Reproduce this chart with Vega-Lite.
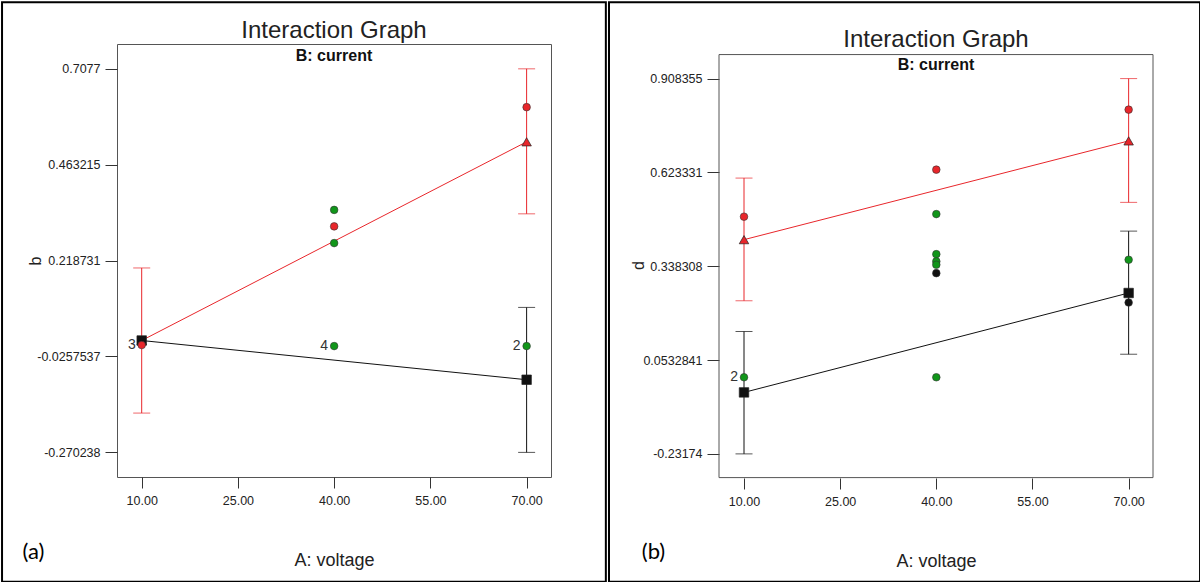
{
  "$schema": "https://vega.github.io/schema/vega-lite/v6.json",
  "padding": 0,
  "spacing": -1,
  "background": "white",
  "config": {
    "view": {"stroke": "#555", "strokeWidth": 1},
    "axis": {
      "grid": false, "domain": false, "tickColor": "#333", "labelFont": "Liberation Sans",
      "labelFontSize": 12.5, "labelColor": "#222", "titleFont": "Liberation Sans",
      "titleFontWeight": "normal", "titleColor": "#222"
    },
    "title": {
      "font": "Liberation Sans", "fontSize": 24, "fontWeight": "normal", "color": "#222",
      "subtitleFont": "Liberation Sans", "subtitleFontSize": 16, "subtitleFontWeight": "bold",
      "subtitleColor": "#111", "anchor": "middle", "frame": "group", "subtitlePadding": 5
    }
  },
  "datasets": {
    "aBars": [
      {"v": 10, "s": "B+", "lo": -0.170, "hi": 0.200},
      {"v": 70, "s": "B+", "lo": 0.338, "hi": 0.7077},
      {"v": 70, "s": "B-", "lo": -0.270238, "hi": 0.0994}
    ],
    "aMeans": [
      {"v": 10, "s": "B+", "m": 0.015},
      {"v": 70, "s": "B+", "m": 0.5216},
      {"v": 10, "s": "B-", "m": 0.015},
      {"v": 70, "s": "B-", "m": -0.085}
    ],
    "aPts": [
      {"v": 40, "s": "B+", "val": 0.306, "label": ""},
      {"v": 70, "s": "B+", "val": 0.610, "label": ""},
      {"v": 10, "s": "B+", "val": 0.0034, "label": "3"},
      {"v": 40, "s": "C", "val": 0.348, "label": ""},
      {"v": 40, "s": "C", "val": 0.2634, "label": ""},
      {"v": 40, "s": "C", "val": 0.0008, "label": "4"},
      {"v": 70, "s": "C", "val": 0.0008, "label": "2"}
    ],
    "bBars": [
      {"v": 10, "s": "B+", "lo": 0.2334, "hi": 0.6061},
      {"v": 70, "s": "B+", "lo": 0.5323, "hi": 0.908355},
      {"v": 10, "s": "B-", "lo": -0.23174, "hi": 0.140},
      {"v": 70, "s": "B-", "lo": 0.071, "hi": 0.445}
    ],
    "bMeans": [
      {"v": 10, "s": "B+", "m": 0.419},
      {"v": 70, "s": "B+", "m": 0.719},
      {"v": 10, "s": "B-", "m": -0.045},
      {"v": 70, "s": "B-", "m": 0.257}
    ],
    "bPts": [
      {"v": 40, "s": "B-", "val": 0.3173, "label": ""},
      {"v": 70, "s": "B-", "val": 0.228, "label": ""},
      {"v": 10, "s": "B+", "val": 0.4888, "label": ""},
      {"v": 40, "s": "B+", "val": 0.6317, "label": ""},
      {"v": 70, "s": "B+", "val": 0.814, "label": ""},
      {"v": 40, "s": "C", "val": 0.4967, "label": ""},
      {"v": 40, "s": "C", "val": 0.375, "label": ""},
      {"v": 40, "s": "C", "val": 0.353, "label": ""},
      {"v": 40, "s": "C", "val": 0.3428, "label": ""},
      {"v": 70, "s": "C", "val": 0.358, "label": ""},
      {"v": 10, "s": "C", "val": 0.001, "label": "2"},
      {"v": 40, "s": "C", "val": 0.001, "label": ""}
    ]
  },
  "hconcat": [
    {
      "width": 434,
      "height": 433,
      "title": {"text": "Interaction Graph", "subtitle": "B: current", "offset": -63},
      "layer": [
        {
          "data": {"values": [{"tag": "(a)"}]},
          "mark": {"type": "rect", "fillOpacity": 0, "stroke": "#000", "strokeWidth": 2},
          "encoding": {
            "x": {"datum": -11.77, "type": "quantitative", "scale": {"domain": [6.15, 73.8], "nice": false, "zero": false}},
            "x2": {"datum": 82.35},
            "y": {"datum": 0.8773, "type": "quantitative", "scale": {"domain": [-0.333, 0.771], "nice": false, "zero": false}},
            "y2": {"datum": -0.6002}
          }
        },
        {
          "data": {"values": [{"tag": "(a)"}]},
          "mark": {"type": "text", "font": "Lato", "fontSize": 22, "baseline": "alphabetic", "align": "center", "color": "#000"},
          "encoding": {
            "x": {"datum": -6.86, "type": "quantitative"},
            "y": {"datum": -0.542, "type": "quantitative"},
            "text": {"field": "tag"}
          }
        },
        {
          "data": {"name": "aBars"},
          "mark": {"type": "rule", "strokeWidth": 1},
          "encoding": {
            "x": {"field": "v", "type": "quantitative",
              "axis": {"title": "A: voltage", "values": [10, 25, 40, 55, 70], "format": ".2f", "tickSize": 11, "labelPadding": 6, "titleFontSize": 18, "titleY": 88, "titleBaseline": "alphabetic"}},
            "y": {"field": "lo", "type": "quantitative",
              "axis": {"title": "b", "values": [-0.270238, -0.0257537, 0.218731, 0.463215, 0.7077], "labelExpr": "'' + datum.value", "tickSize": 12, "labelPadding": 5, "titleFontSize": 16, "titleX": -82, "titleBaseline": "middle"}},
            "y2": {"field": "hi"},
            "color": {"field": "s", "type": "nominal", "legend": null, "scale": {"domain": ["B-", "B+", "C"], "range": ["#111111", "#e8262b", "#11961a"]}}
          }
        },
        {
          "data": {"name": "aBars"},
          "mark": {"type": "tick", "orient": "horizontal", "size": 17, "thickness": 1},
          "encoding": {"x": {"field": "v", "type": "quantitative"}, "y": {"field": "lo", "type": "quantitative"}, "color": {"field": "s", "type": "nominal", "legend": null}}
        },
        {
          "data": {"name": "aBars"},
          "mark": {"type": "tick", "orient": "horizontal", "size": 17, "thickness": 1},
          "encoding": {"x": {"field": "v", "type": "quantitative"}, "y": {"field": "hi", "type": "quantitative"}, "color": {"field": "s", "type": "nominal", "legend": null}}
        },
        {
          "data": {"name": "aMeans"},
          "mark": {"type": "line", "strokeWidth": 1},
          "encoding": {"x": {"field": "v", "type": "quantitative"}, "y": {"field": "m", "type": "quantitative"}, "color": {"field": "s", "type": "nominal", "legend": null}}
        },
        {
          "data": {"name": "aMeans"},
          "mark": {"type": "point", "filled": true, "size": 90, "opacity": 1, "stroke": "#222", "strokeWidth": 0.7},
          "encoding": {
            "x": {"field": "v", "type": "quantitative"}, "y": {"field": "m", "type": "quantitative"},
            "color": {"field": "s", "type": "nominal", "legend": null},
            "shape": {"field": "s", "type": "nominal", "legend": null, "scale": {"domain": ["B-", "B+"], "range": ["square", "triangle-up"]}}
          }
        },
        {
          "data": {"name": "aPts"},
          "mark": {"type": "point", "filled": true, "shape": "circle", "size": 58, "opacity": 1, "stroke": "#333", "strokeWidth": 0.6},
          "encoding": {"x": {"field": "v", "type": "quantitative"}, "y": {"field": "val", "type": "quantitative"}, "color": {"field": "s", "type": "nominal", "legend": null}}
        },
        {
          "data": {"name": "aPts"},
          "mark": {"type": "text", "align": "right", "baseline": "middle", "dx": -6, "fontSize": 14, "font": "Liberation Sans", "color": "#333"},
          "encoding": {"x": {"field": "v", "type": "quantitative"}, "y": {"field": "val", "type": "quantitative"}, "text": {"field": "label"}}
        }
      ]
    },
    {
      "width": 434,
      "height": 434,
      "view": {"stroke": null},
      "title": {"text": "Interaction Graph", "subtitle": "B: current", "offset": -71.5},
      "layer": [
        {
          "data": {"values": [{"tag": "(b)"}]},
          "mark": {"type": "rect", "fillOpacity": 0, "stroke": "#000", "strokeWidth": 2},
          "encoding": {
            "x": {"datum": -11.06, "type": "quantitative", "scale": {"domain": [6.1, 73.8], "nice": false, "zero": false}},
            "x2": {"datum": 81.14},
            "y": {"datum": 1.1401, "type": "quantitative", "scale": {"domain": [-0.305, 1.0134], "nice": false, "zero": false}},
            "y2": {"datum": -0.6203}
          }
        },
        {
          "data": {"values": [{"tag": "(b)"}]},
          "mark": {"type": "rect", "fillOpacity": 0, "stroke": "#555", "strokeWidth": 1},
          "encoding": {
            "x": {"datum": 6.1, "type": "quantitative"},
            "x2": {"datum": 73.8},
            "y": {"datum": 0.9813, "type": "quantitative"},
            "y2": {"datum": -0.3038}
          }
        },
        {
          "data": {"values": [{"tag": "(b)"}]},
          "mark": {"type": "text", "font": "Lato", "fontSize": 22, "baseline": "alphabetic", "align": "center", "color": "#000"},
          "encoding": {
            "x": {"datum": -4.12, "type": "quantitative"},
            "y": {"datum": -0.550, "type": "quantitative"},
            "text": {"field": "tag"}
          }
        },
        {
          "data": {"name": "bBars"},
          "mark": {"type": "rule", "strokeWidth": 1},
          "encoding": {
            "x": {"field": "v", "type": "quantitative",
              "axis": {"title": "A: voltage", "values": [10, 25, 40, 55, 70], "format": ".2f", "tickSize": 11, "labelPadding": 6, "titleFontSize": 18, "titleY": 88, "titleBaseline": "alphabetic"}},
            "y": {"field": "lo", "type": "quantitative",
              "axis": {"title": "d", "values": [-0.23174, 0.0532841, 0.338308, 0.623331, 0.908355], "labelExpr": "'' + datum.value", "tickSize": 12, "labelPadding": 5, "titleFontSize": 16, "titleX": -81, "titleY": 221, "titleBaseline": "middle"}},
            "y2": {"field": "hi"},
            "color": {"field": "s", "type": "nominal", "legend": null, "scale": {"domain": ["B-", "B+", "C"], "range": ["#111111", "#e8262b", "#11961a"]}}
          }
        },
        {
          "data": {"name": "bBars"},
          "mark": {"type": "tick", "orient": "horizontal", "size": 17, "thickness": 1},
          "encoding": {"x": {"field": "v", "type": "quantitative"}, "y": {"field": "lo", "type": "quantitative"}, "color": {"field": "s", "type": "nominal", "legend": null}}
        },
        {
          "data": {"name": "bBars"},
          "mark": {"type": "tick", "orient": "horizontal", "size": 17, "thickness": 1},
          "encoding": {"x": {"field": "v", "type": "quantitative"}, "y": {"field": "hi", "type": "quantitative"}, "color": {"field": "s", "type": "nominal", "legend": null}}
        },
        {
          "data": {"name": "bMeans"},
          "mark": {"type": "line", "strokeWidth": 1},
          "encoding": {"x": {"field": "v", "type": "quantitative"}, "y": {"field": "m", "type": "quantitative"}, "color": {"field": "s", "type": "nominal", "legend": null}}
        },
        {
          "data": {"name": "bMeans"},
          "mark": {"type": "point", "filled": true, "size": 90, "opacity": 1, "stroke": "#222", "strokeWidth": 0.7},
          "encoding": {
            "x": {"field": "v", "type": "quantitative"}, "y": {"field": "m", "type": "quantitative"},
            "color": {"field": "s", "type": "nominal", "legend": null},
            "shape": {"field": "s", "type": "nominal", "legend": null, "scale": {"domain": ["B-", "B+"], "range": ["square", "triangle-up"]}}
          }
        },
        {
          "data": {"name": "bPts"},
          "mark": {"type": "point", "filled": true, "shape": "circle", "size": 58, "opacity": 1, "stroke": "#333", "strokeWidth": 0.6},
          "encoding": {"x": {"field": "v", "type": "quantitative"}, "y": {"field": "val", "type": "quantitative"}, "color": {"field": "s", "type": "nominal", "legend": null}}
        },
        {
          "data": {"name": "bPts"},
          "mark": {"type": "text", "align": "right", "baseline": "middle", "dx": -6, "fontSize": 14, "font": "Liberation Sans", "color": "#333"},
          "encoding": {"x": {"field": "v", "type": "quantitative"}, "y": {"field": "val", "type": "quantitative"}, "text": {"field": "label"}}
        }
      ]
    }
  ]
}
